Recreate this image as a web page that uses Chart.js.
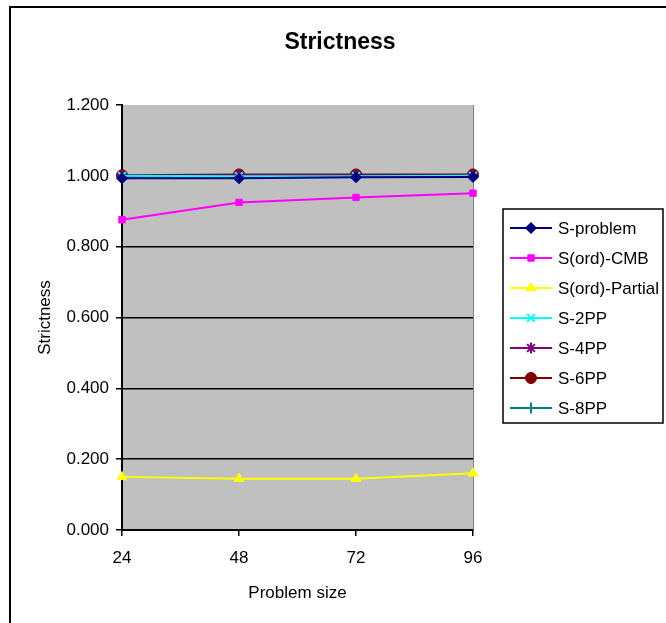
<!DOCTYPE html>
<html>
<head>
<meta charset="utf-8">
<title>Strictness</title>
<script src="https://cdn.jsdelivr.net/npm/chart.js@4/dist/chart.umd.min.js"></script>
<style>
  html, body { margin: 0; padding: 0; background: #fff; }
  canvas { display: block; }
</style>
</head>
<body>
<canvas id="strictChart" width="666" height="623"></canvas>
<script>
// Chart data
const problemSizes = ['24', '48', '72', '96'];
const yTickValues = [0, 0.2, 0.4, 0.6, 0.8, 1.0, 1.2];

const sProblem  = [0.993, 0.993, 0.996, 0.997];
const sOrdCmb   = [0.876, 0.925, 0.939, 0.951];
const sOrdPart  = [0.150, 0.145, 0.145, 0.160];
const s2pp      = [1.000, 0.999, 0.999, 1.000];
const s4pp      = [1.000, 1.001, 1.001, 1.001];
const s6pp      = [1.002, 1.004, 1.004, 1.004];
const s8pp      = [0.998, 0.997, 0.998, 0.999];

const seriesNames = ['S-problem', 'S(ord)-CMB', 'S(ord)-Partial', 'S-2PP', 'S-4PP', 'S-6PP', 'S-8PP'];
const seriesData = [sProblem, sOrdCmb, sOrdPart, s2pp, s4pp, s6pp, s8pp];
const seriesColors = ['#000080', '#ff00ff', '#ffff00', '#00ffff', '#800080', '#800000', '#008080'];
const seriesMarkers = ['rectRot', 'rect', 'triangle', 'crossRot', 'star', 'circle', 'cross'];

const FONT = 'Arial, "Liberation Sans", sans-serif';

// Plot area in the reference: x 122..473, y 105..530
const AREA = { left: 122, top: 105, right: 473, bottom: 530 };

const datasets = seriesNames.map((name, i) => ({
  label: name,
  data: seriesData[i],
  borderColor: seriesColors[i],
  backgroundColor: seriesColors[i],
  borderWidth: 2,
  pointStyle: seriesMarkers[i],
  pointRadius: seriesMarkers[i] === 'rect' ? 4.5 : 5.5,
  pointBorderWidth: (seriesMarkers[i] === 'cross' || seriesMarkers[i] === 'crossRot' || seriesMarkers[i] === 'star') ? 2 : 1,
  pointBackgroundColor: seriesColors[i],
  pointBorderColor: seriesColors[i],
  tension: 0,
  fill: false
}));

// Frame, grey plot background, title and legend box
const excelLook = {
  id: 'excelLook',
  beforeDraw(chart) {
    const { ctx, chartArea } = chart;
    ctx.save();
    ctx.fillStyle = '#ffffff';
    ctx.fillRect(0, 0, chart.width, chart.height);
    // outer chart frame (runs off right and bottom edges)
    ctx.strokeStyle = '#000';
    ctx.lineWidth = 2;
    ctx.strokeRect(10, 7, chart.width + 20, chart.height + 20);
    // plot area
    ctx.fillStyle = '#c0c0c0';
    ctx.fillRect(chartArea.left, chartArea.top, chartArea.right - chartArea.left, chartArea.bottom - chartArea.top);
    ctx.strokeStyle = '#808080';
    ctx.lineWidth = 1;
    ctx.beginPath();
    ctx.moveTo(chartArea.right + 0.5, chartArea.top);
    ctx.lineTo(chartArea.right + 0.5, chartArea.bottom);
    ctx.stroke();
    ctx.restore();
  },
  afterDraw(chart) {
    const { ctx } = chart;
    ctx.save();
    // title
    ctx.fillStyle = '#000';
    ctx.font = 'bold 23px ' + FONT;
    ctx.textAlign = 'center';
    ctx.textBaseline = 'middle';
    ctx.fillText('Strictness', 340, 43);

    // legend
    ctx.fillStyle = '#fff';
    ctx.fillRect(503, 209, 160, 214);
    ctx.strokeStyle = '#000';
    ctx.lineWidth = 1.5;
    ctx.strokeRect(503, 209, 160, 214);
    ctx.font = '17px ' + FONT;
    ctx.textAlign = 'left';
    chart.data.datasets.forEach((ds, i) => {
      const y = 228 + i * 30;
      ctx.strokeStyle = ds.borderColor;
      ctx.lineWidth = 2;
      ctx.beginPath();
      ctx.moveTo(510, y);
      ctx.lineTo(552, y);
      ctx.stroke();
      if (Chart.helpers && Chart.helpers.drawPoint) {
        ctx.fillStyle = ds.pointBackgroundColor;
        ctx.strokeStyle = ds.pointBorderColor;
        ctx.lineWidth = ds.pointBorderWidth;
        Chart.helpers.drawPoint(ctx, {
          pointStyle: ds.pointStyle,
          radius: ds.pointRadius,
          rotation: 0,
          borderWidth: ds.pointBorderWidth
        }, 531, y);
      }
      ctx.fillStyle = '#000';
      ctx.fillText(ds.label, 558, y + 1);
    });
    ctx.restore();
  }
};

new Chart(document.getElementById('strictChart'), {
  type: 'line',
  data: { labels: problemSizes, datasets: datasets },
  options: {
    responsive: false,
    devicePixelRatio: 1,
    animation: false,
    layout: {
      padding: { top: AREA.top, left: 0, right: 666 - AREA.right, bottom: 0 }
    },
    plugins: {
      legend: { display: false },
      title: { display: false },
      tooltip: { enabled: false }
    },
    scales: {
      x: {
        type: 'category',
        offset: false,
        afterFit(scale) { scale.height = 623 - AREA.bottom; },
        border: { display: true, color: '#000', width: 2 },
        grid: { drawOnChartArea: false, drawTicks: true, tickLength: 6, color: '#000', tickColor: '#000', lineWidth: 1.5 },
        ticks: { color: '#000', font: { family: FONT, size: 17 }, padding: 12, maxRotation: 0, autoSkip: false },
        title: { display: true, text: 'Problem size', color: '#000', font: { family: FONT, size: 17 }, padding: { top: 0, bottom: 19 } }
      },
      y: {
        min: 0,
        max: 1.2,
        afterFit(scale) { scale.width = AREA.left; },
        afterBuildTicks(scale) { scale.ticks = yTickValues.map(v => ({ value: v })); },
        border: { display: true, color: '#000', width: 2 },
        grid: {
          drawTicks: true,
          tickLength: 6,
          lineWidth: 1.5,
          color: ctx => (ctx.tick && ctx.tick.value >= 1.2) ? 'rgba(0,0,0,0)' : '#000',
          tickColor: '#000'
        },
        ticks: {
          color: '#000',
          font: { family: FONT, size: 17 },
          padding: 7,
          callback: v => Number(v).toFixed(3)
        },
        title: { display: true, text: 'Strictness', color: '#000', font: { family: FONT, size: 17 }, padding: { top: 35, bottom: 0 } }
      }
    }
  },
  plugins: [excelLook]
});
</script>
</body>
</html>
